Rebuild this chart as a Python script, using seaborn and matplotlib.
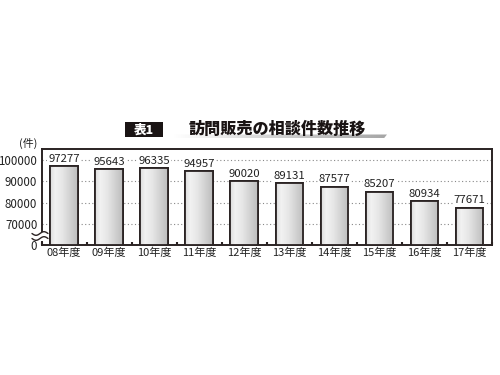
import numpy as np
import pandas as pd
import matplotlib
matplotlib.use("Agg")
import matplotlib.pyplot as plt
import seaborn as sns
from matplotlib.colors import LinearSegmentedColormap
from matplotlib.patches import Rectangle, Polygon
from matplotlib.lines import Line2D

years = ["08年度", "09年度", "10年度", "11年度", "12年度",
         "13年度", "14年度", "15年度", "16年度", "17年度"]
counts = [97277, 95643, 96335, 94957, 90020, 89131, 87577, 85207, 80934, 77671]
ytick_values = [0, 70000, 80000, 90000, 100000]
title_tag = "表1"
title_text = "訪問販売の相談件数推移"
unit_label = "(件)"

BREAK_LOW = 70000
OFFSET = 1.0


def tr(v):
    v = np.asarray(v, dtype=float)
    return np.where(v >= BREAK_LOW, (v - BREAK_LOW) / 10000.0 + OFFSET, v / BREAK_LOW * OFFSET)


sns.set_theme(style="white")
plt.rcParams["font.family"] = ["Noto Sans CJK JP", "DejaVu Sans"]

df = pd.DataFrame({"year": years, "count": counts, "h": tr(counts)})

fig = plt.figure(figsize=(5, 3.75), dpi=100)
ax = fig.add_axes([41.5 / 500, 1 - 245 / 375, (492 - 41.5) / 500, (245 - 149) / 375])

sns.barplot(data=df, x="year", y="h", ax=ax, color="white", width=0.61,
            edgecolor="#2a2222", linewidth=1.3, zorder=3)

# gradient fill clipped to each bar
cmap = LinearSegmentedColormap.from_list(
    "g", [(0, "#dcdcdc"), (0.18, "#f2f2f2"), (0.45, "#e6e6e6"), (1, "#bdbdbd")])
grad = np.linspace(0, 1, 64).reshape(1, -1)
for p in ax.patches:
    x0, y0 = p.get_x(), p.get_y()
    w, hgt = p.get_width(), p.get_height()
    im = ax.imshow(grad, cmap=cmap, extent=[x0, x0 + w, y0, y0 + hgt],
                   aspect="auto", zorder=3.5, interpolation="bilinear")
    im.set_clip_path(p)
    edge = Rectangle((x0, y0), w, hgt, fill=False, edgecolor="#2a2222",
                     linewidth=1.3, zorder=4)
    ax.add_patch(edge)

ax.set_xlim(-0.5, len(years) - 0.5)
ax.set_ylim(0, 4.53)

# value labels
for i, (c, hv) in enumerate(zip(counts, df["h"])):
    ax.text(i, hv + 0.1, f"{c}", ha="center", va="bottom", fontsize=8.2,
            color="#222222", zorder=6,
            bbox=dict(facecolor="white", edgecolor="none", pad=0.6))

ax.set_yticks(tr(ytick_values))
ax.set_yticklabels([str(v) for v in ytick_values], fontsize=8.3, color="#222222")
ax.set_xlabel("")
ax.set_ylabel("")
ax.tick_params(axis="x", labelsize=8, colors="#222222", length=0, pad=2)
ax.tick_params(axis="y", length=0, pad=3)
ax.set_xticks(np.arange(-0.5, len(years), 1.0), minor=True)
ax.tick_params(axis="x", which="minor", direction="in", length=2.5, width=1.5,
               color="#2a2222", bottom=True)

# dotted grid for 70000..100000
for v in ytick_values[1:]:
    ax.axhline(tr(v), color="#888888", lw=0.8, ls=(0, (1, 2.2)), zorder=1)

for s in ax.spines.values():
    s.set_visible(True)
    s.set_color("#2a2222")
    s.set_linewidth(1.4)

# axis break symbol
fig.patches.append(Rectangle((36 / 500, 1 - 241 / 375), 12 / 500, 9 / 375,
                             transform=fig.transFigure, facecolor="white",
                             edgecolor="none", zorder=10))
xs = np.linspace(32, 48, 60)
for yc in (233.5, 238.5):
    ys = yc + 1.8 * np.sin((xs - 32) / 16 * 2 * np.pi)
    fig.add_artist(Line2D(xs / 500, 1 - ys / 375, transform=fig.transFigure,
                          color="#2a2222", lw=1.0, zorder=11))

# unit label
fig.text(28 / 500, 1 - 143 / 375, unit_label, fontsize=7.8, ha="center",
         va="center", color="#222222")

# title block
fig.patches.append(Rectangle((125 / 500, 1 - 137 / 375), 38 / 500, 15 / 375,
                             transform=fig.transFigure, facecolor="#1a1414",
                             edgecolor="none"))
fig.text(144 / 500, 1 - 129.5 / 375, title_tag, fontsize=9, fontweight="heavy",
         color="white", ha="center", va="center")
# grey underline with gradient and slanted right end
ul = fig.add_axes([173 / 500, 1 - 138.5 / 375, 214 / 500, 4 / 375])
uimg = ul.imshow(np.linspace(0, 1, 128).reshape(1, -1),
                 cmap=LinearSegmentedColormap.from_list("u", ["#ffffff", "#d0d0d0", "#a6a6a6"]),
                 aspect="auto", extent=[0, 1, 0, 1])
clip = Polygon([(0, 0), (0.985, 0), (1, 1), (0, 1)], closed=True,
               transform=ul.transData, facecolor="none", edgecolor="none")
ul.add_patch(clip)
uimg.set_clip_path(clip)
ul.set_xlim(0, 1)
ul.set_ylim(0, 1)
ul.axis("off")
fig.text(277.5 / 500, 1 - 128.5 / 375, title_text, fontsize=11.6,
         fontweight="heavy", color="#1a1414", ha="center", va="center")

fig.savefig("out.png", dpi=100, facecolor="white")
